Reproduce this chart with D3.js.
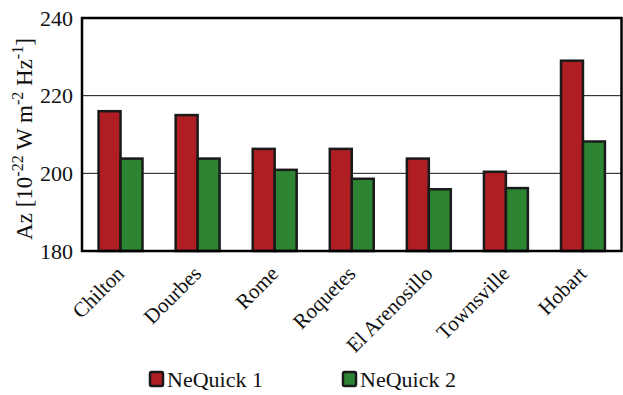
<!DOCTYPE html>
<html>
<head>
<meta charset="utf-8">
<script src="https://d3js.org/d3.v7.min.js"></script>
<style>
  html, body { margin: 0; padding: 0; background: #fff; }
  svg { display: block; }
  svg text { font-family: "Liberation Serif", "Tinos", "Times New Roman", "DejaVu Serif", serif; }
</style>
</head>
<body>
<svg id="chart" width="623" height="395"></svg>
<script>
// Stations and the two model results per station
const stations = ["Chilton", "Dourbes", "Rome", "Roquetes", "El Arenosillo", "Townsville", "Hobart"];
const seriesNames = ["NeQuick 1", "NeQuick 2"];
const neQuick1 = [216, 215, 206.3, 206.3, 203.8, 200.4, 229];
const neQuick2 = [203.8, 203.8, 200.9, 198.6, 195.9, 196.2, 208.2];
const yTicks = [180, 200, 220, 240];
const seriesColors = ["#AE1E23", "#2D8432"];

const svg = d3.select("#chart");
const margin = { left: 82, right: 1.5, top: 18, bottom: 144 };
const W = 623, H = 395;
const x0 = margin.left, x1 = W - margin.right;
const y0 = H - margin.bottom, y1 = margin.top;

const x = d3.scaleBand().domain(stations).range([x0, x1]).paddingInner(0.43).paddingOuter(0.215);
const xSub = d3.scaleBand().domain(seriesNames).range([0, x.bandwidth()]);
const y = d3.scaleLinear().domain([180, 240]).range([y0, y1]);

const rows = stations.map((s, i) => ({ station: s, values: [neQuick1[i], neQuick2[i]] }));

// horizontal grid lines
svg.append("g")
  .selectAll("line")
  .data(yTicks.filter(t => t > 180 && t < 240))
  .join("line")
  .attr("x1", x0).attr("x2", x1)
  .attr("y1", d => y(d)).attr("y2", d => y(d))
  .attr("stroke", "#111").attr("stroke-width", 1);

// bars
const groups = svg.append("g")
  .selectAll("g")
  .data(rows)
  .join("g")
  .attr("transform", d => `translate(${x(d.station)},0)`);

groups.selectAll("rect")
  .data(d => d.values.map((v, k) => ({ key: seriesNames[k], value: v, k })))
  .join("rect")
  .attr("x", d => xSub(d.key))
  .attr("y", d => y(d.value))
  .attr("width", xSub.bandwidth())
  .attr("height", d => y(180) - y(d.value))
  .attr("fill", d => seriesColors[d.k])
  .attr("stroke", "#1a1a1a")
  .attr("stroke-width", 2.5);

// plot frame
svg.append("rect")
  .attr("x", x0).attr("y", y1)
  .attr("width", x1 - x0).attr("height", y0 - y1)
  .attr("fill", "none").attr("stroke", "#000").attr("stroke-width", 2.5);

// y axis tick labels
const yAxis = d3.axisLeft(y).tickValues(yTicks).tickSize(0).tickPadding(9).tickFormat(d3.format("d"));
const ya = svg.append("g").attr("transform", `translate(${x0},0)`).call(yAxis);
ya.attr("font-family", null).attr("font-size", null);
ya.select(".domain").remove();
ya.selectAll("text").attr("font-size", 22).attr("fill", "#111");

// x axis labels, rotated
const xAxis = d3.axisBottom(x).tickSize(0).tickPadding(0);
const xa = svg.append("g").attr("transform", `translate(0,${y0})`).call(xAxis);
xa.attr("font-family", null).attr("font-size", null);
xa.select(".domain").remove();
xa.selectAll("text")
  .attr("font-size", 21).attr("fill", "#111")
  .attr("text-anchor", "end")
  .attr("dy", null).attr("y", null)
  .attr("transform", "translate(5,24) rotate(-45)");

// y axis title with superscripts
const yt = svg.append("text")
  .attr("transform", `translate(32,139) rotate(-90)`)
  .attr("text-anchor", "middle")
  .attr("font-size", 23)
  .attr("fill", "#111");
const parts = [["Az [10", false], ["-22", true], [" W m", false], ["-2", true], [" Hz", false], ["-1", true], ["]", false]];
let prevSup = false;
parts.forEach(([t, sup]) => {
  const ts = yt.append("tspan").text(t);
  if (sup) ts.attr("font-size", 16).attr("dy", -9);
  else if (prevSup) ts.attr("dy", 9);
  prevSup = sup;
});

// legend
const legendX = [150, 343];
const lg = svg.append("g").selectAll("g").data(seriesNames).join("g")
  .attr("transform", (d, i) => `translate(${legendX[i]},372)`);
lg.append("rect")
  .attr("width", 13).attr("height", 14).attr("rx", 1.5)
  .attr("fill", (d, i) => seriesColors[i])
  .attr("stroke", "#1a1a1a").attr("stroke-width", 2.5);
lg.append("text")
  .attr("x", 17).attr("y", 15)
  .attr("font-size", 22).attr("fill", "#111")
  .text(d => d);
</script>
</body>
</html>
